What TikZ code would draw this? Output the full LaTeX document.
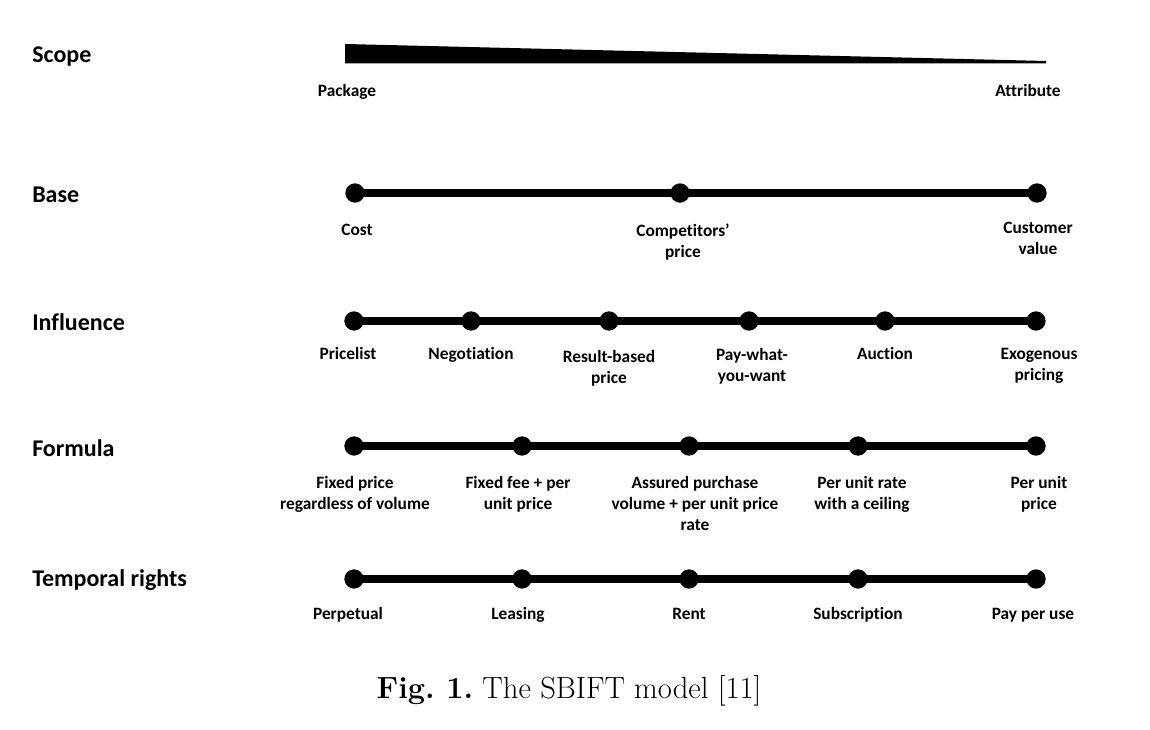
\documentclass[tikz,border=0pt]{standalone}
\usepackage{fontspec}
\newfontfamily\lab[Ligatures=NoCommon]{Carlito}
\begin{document}
\begin{tikzpicture}[x=0.75pt,y=-0.75pt,
  dot/.style={circle,fill=black,inner sep=0pt,minimum size=14.5pt},
  axis/.style={line width=5.3pt},
  rowlab/.style={anchor=west,inner sep=0pt,font=\lab\bfseries\fontsize{18pt}{21pt}\selectfont},
  sub/.style={anchor=north,inner sep=0pt,align=center,font=\lab\bfseries\fontsize{13pt}{15.75pt}\selectfont},
  subone/.style={sub,text height=10pt}]
\useasboundingbox (0,0) rectangle (1150,730);
% Scope
\node[rowlab] (scope) at (32,57) {Scope};
\fill (345,44) -- (1046,61) -- (1046,63.5) -- (345,63.5) -- cycle;
\node[subone] (package) at (347,83) {Package};
\node[subone] (attribute) at (1028,83) {Attribute};
% Base
\node[rowlab] (base) at (32,195) {Base};
\foreach \n/\x in {b1/355,b2/680,b3/1037} \node[dot] (\n) at (\x,193) {};
\draw[axis] (b1.center) -- (b3.center);
\node[subone] (cost) at (357,222) {Cost};
\node[sub] (comp) at (683,224) {Competitors’\\price};
\node[sub] (cust) at (1038,222) {Customer\\value};
% Influence
\node[rowlab] (influence) at (32,322) {Influence};
\foreach \n/\x in {i1/354,i2/471,i3/609,i4/749,i5/885,i6/1036} \node[dot] (\n) at (\x,321) {};
\draw[axis] (i1.center) -- (i6.center);
\node[subone] (pricelist) at (348,346) {Pricelist};
\node[subone] (nego) at (471,346) {Negotiation};
\node[sub] (result) at (609,350) {Result-based\\price};
\node[sub] (pwyw) at (752,348) {Pay-what-\\you-want};
\node[subone] (auction) at (885,346) {Auction};
\node[sub] (exo) at (1039,348) {Exogenous\\pricing};
% Formula
\node[rowlab] (formula) at (32,448) {Formula};
\foreach \n/\x in {f1/354,f2/522,f3/689,f4/858,f5/1036} \node[dot] (\n) at (\x,446) {};
\draw[axis] (f1.center) -- (f5.center);
\node[sub] (fixed) at (355,476) {Fixed price\\regardless of volume};
\node[sub] (fee) at (518,476) {Fixed fee + per\\unit price};
\node[sub] (assured) at (695,476) {Assured purchase\\volume + per unit price\\rate};
\node[sub] (ceiling) at (862,476) {Per unit rate\\with a ceiling};
\node[sub] (perunit) at (1039,476) {Per unit\\price};
% Temporal rights
\node[rowlab] (temporal) at (32,580) {Temporal rights};
\foreach \n/\x in {t1/354,t2/522,t3/689,t4/858,t5/1036} \node[dot] (\n) at (\x,579) {};
\draw[axis] (t1.center) -- (t5.center);
\node[subone] (perp) at (348,606) {Perpetual};
\node[subone] (leasing) at (518,606) {Leasing};
\node[subone] (rent) at (689,606) {Rent};
\node[subone] (subs) at (858,606) {Subscription};
\node[subone] (ppu) at (1033,606) {Pay per use};
% Caption
\node[inner sep=0pt,font=\fontsize{23pt}{27pt}\selectfont] (caption) at (569,691) {\frenchspacing\textbf{Fig. 1.} The SBIFT model [11]};
\end{tikzpicture}
\end{document}
